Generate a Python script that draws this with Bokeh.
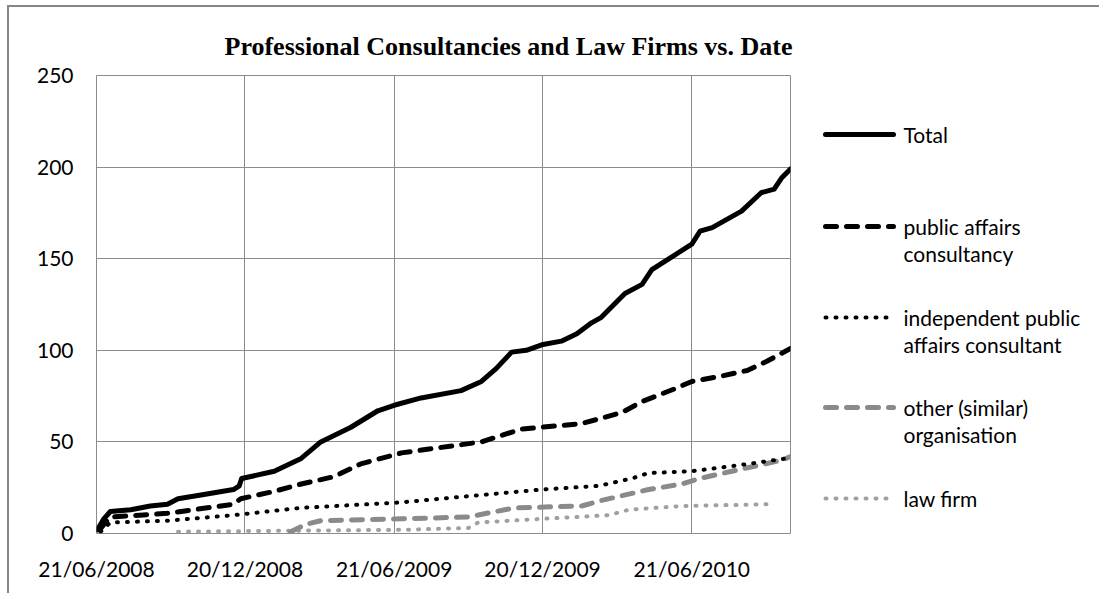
import pandas as pd
from bokeh.plotting import figure
from bokeh.layouts import row
from bokeh.models import Range1d, FixedTicker, DatetimeTickFormatter
from bokeh.core.properties import value
from bokeh.embed import file_html
from bokeh.resources import INLINE

TITLE = "Professional Consultancies and Law Firms vs. Date"
X_START = "2008-06-21"
X_END = "2010-10-20"
X_TICK_DATES = ["2008-06-21", "2008-12-20", "2009-06-21", "2009-12-20", "2010-06-21"]
Y_TICKS = [0, 50, 100, 150, 200, 250]

total_dates = ["2008-06-22", "2008-06-30", "2008-07-08", "2008-08-02", "2008-08-26", "2008-09-16",
               "2008-09-29", "2008-10-27", "2008-12-06", "2008-12-13", "2008-12-16", "2009-01-25",
               "2009-02-27", "2009-03-23", "2009-04-29", "2009-06-01", "2009-06-21", "2009-07-24",
               "2009-09-11", "2009-10-06", "2009-10-24", "2009-11-12", "2009-11-30", "2009-12-19",
               "2010-01-12", "2010-01-31", "2010-02-18", "2010-03-02", "2010-03-31", "2010-04-21",
               "2010-05-03", "2010-05-31", "2010-06-21", "2010-07-01", "2010-07-16", "2010-08-21",
               "2010-09-14", "2010-09-30", "2010-10-09", "2010-10-20"]
total_values = [2, 8, 12, 13, 15, 16, 19, 21, 24, 26, 30, 34, 41, 50, 58, 67, 70, 74, 78, 83,
                90, 99, 100, 103, 105, 109, 115, 118, 131, 136, 144, 152, 158, 165, 167, 176,
                186, 188, 194, 199]

pac_dates = ["2008-06-25", "2008-07-02", "2008-07-08", "2008-09-16", "2008-12-06", "2008-12-15",
             "2009-01-25", "2009-02-27", "2009-04-08", "2009-05-11", "2009-06-05", "2009-06-30",
             "2009-08-18", "2009-10-06", "2009-11-24", "2010-02-06", "2010-03-27", "2010-04-21",
             "2010-05-31", "2010-06-21", "2010-07-28", "2010-08-28", "2010-09-21", "2010-10-20"]
pac_values = [2, 6, 9, 11, 16, 19, 23, 27, 31, 38, 41, 44, 47, 50, 57, 60, 66, 72, 79, 83,
              86, 89, 94, 101]

ipc_dates = ["2008-06-26", "2008-07-08", "2008-09-16", "2008-12-06", "2009-02-27", "2009-06-30",
             "2009-10-06", "2009-12-19", "2010-02-27", "2010-04-08", "2010-04-29", "2010-06-21",
             "2010-08-30", "2010-10-15"]
ipc_values = [1, 6, 7, 10, 14, 17, 21, 24, 26, 30, 33, 34, 38, 41]

other_dates = ["2009-02-14", "2009-03-05", "2009-03-23", "2009-06-30", "2009-09-20", "2009-11-15",
               "2010-02-06", "2010-03-02", "2010-04-29", "2010-06-09", "2010-06-30", "2010-08-09",
               "2010-09-19", "2010-10-09", "2010-10-20"]
other_values = [1, 5, 7, 8, 9, 14, 15, 18, 24, 27, 30, 34, 38, 40, 42]

law_dates = ["2008-09-29", "2009-06-30", "2009-09-20", "2009-10-02", "2009-12-19", "2010-03-11",
             "2010-04-05", "2010-06-09", "2010-09-25"]
law_values = [1, 2, 3, 6, 8, 10, 13, 15, 16]

LEGEND_LABELS = [["Total"], ["public affairs", "consultancy"],
                 ["independent public", "affairs consultant"],
                 ["other (similar)", "organisation"], ["law firm"]]

GRID = "#8c8c8c"
FONT = "Lato"

def d(lst):
    return pd.to_datetime(lst)

x0 = pd.Timestamp(X_START)
x1 = pd.Timestamp(X_END)

# page origin of the canvases (margin + border)
OX, OY = 9, 7
W_MAIN, W_LEG, H = 800, 290, 586
F_TOP, F_BOT, F_LEFT = 75, 533, 96          # frame edges in page pixels
MB_TOP = F_TOP - OY
MB_BOT = OY + H - F_BOT
MB_LEFT = F_LEFT - OX
MB_RIGHT = W_MAIN - MB_LEFT - 694

p = figure(width=W_MAIN, height=H, x_axis_type="datetime",
           x_range=Range1d(x0, x1), y_range=Range1d(0, 250),
           toolbar_location=None, output_backend="svg", title=TITLE,
           min_border_left=MB_LEFT, min_border_right=MB_RIGHT,
           min_border_top=MB_TOP, min_border_bottom=MB_BOT)
p.outline_line_color = GRID
p.outline_line_width = 1
p.background_fill_color = "white"
p.border_fill_color = "white"

p.title.text_font = "Liberation Serif"
p.title.text_font_style = "bold"
p.title.text_font_size = "26px"
p.title.text_color = "black"
p.title.align = "left"
p.title.offset = 224 - F_LEFT
p.title.standoff = 29

p.xaxis.ticker = FixedTicker(ticks=[pd.Timestamp(t).value / 1e6 for t in X_TICK_DATES])
fmt = "%d/%m/%Y"
p.xaxis.formatter = DatetimeTickFormatter(days=fmt, months=fmt, years=fmt, hours=fmt,
                                          minutes=fmt, seconds=fmt, milliseconds=fmt,
                                          microseconds=fmt, minsec=fmt, hourmin=fmt)
p.yaxis.ticker = FixedTicker(ticks=Y_TICKS)
for ax in (p.xaxis, p.yaxis):
    ax.axis_line_color = None
    ax.major_tick_line_color = None
    ax.minor_tick_line_color = None
    ax.major_tick_out = 0
    ax.major_label_text_font = FONT
    ax.major_label_text_font_size = "21px"
    ax.major_label_text_color = "black"
p.yaxis.major_label_standoff = 23
p.xaxis.major_label_standoff = 22
p.xgrid.grid_line_color = GRID
p.ygrid.grid_line_color = GRID
p.xgrid.grid_line_width = 1
p.ygrid.grid_line_width = 1

# series (lighter ones first)
p.line(d(law_dates), law_values, line_color="#a0a0a0", line_width=4,
       line_dash="1 9", line_cap="round", line_join="round")
p.line(d(other_dates), other_values, line_color="#8a8a8a", line_width=5,
       line_dash="11 10", line_cap="round", line_join="round")
p.line(d(ipc_dates), ipc_values, line_color="black", line_width=4,
       line_dash="1 9", line_cap="round", line_join="round")
p.line(d(pac_dates), pac_values, line_color="black", line_width=5,
       line_dash="11 10", line_cap="round", line_join="round")
p.line(d(total_dates), total_values, line_color="black", line_width=5,
       line_cap="round", line_join="round")

# legend panel: ranges expressed in page pixels, frame aligned with the main frame
LX0 = OX + W_MAIN
lg = figure(width=W_LEG, height=H, x_range=Range1d(LX0, LX0 + W_LEG),
            y_range=Range1d(F_BOT, F_TOP),
            x_axis_type=None, y_axis_type=None, toolbar_location=None, output_backend="svg",
            min_border_left=0, min_border_right=0,
            min_border_top=MB_TOP, min_border_bottom=MB_BOT)
lg.outline_line_color = None
lg.background_fill_color = "white"
lg.border_fill_color = "white"

styles = [dict(line_color="black", line_width=5),
          dict(line_color="black", line_width=5, line_dash="11 10"),
          dict(line_color="black", line_width=4, line_dash="1 9"),
          dict(line_color="#8a8a8a", line_width=5, line_dash="11 10"),
          dict(line_color="#a0a0a0", line_width=4, line_dash="1 9")]
tops = [134, 226, 317, 407, 498]
for lab, st, yy in zip(LEGEND_LABELS, styles, tops):
    lg.line([825, 893], [yy, yy], line_cap="round", **st)
    for i, t in enumerate(lab):
        lg.text(x=[903], y=[yy + i * 27], text=[t], text_font=value(FONT),
                text_font_size="21px", text_baseline="middle", text_color="black")

layout = row(p, lg)
layout.styles = {"margin-left": "7px", "margin-top": "5px",
                 "border-top": "2px solid #868686", "border-left": "2px solid #868686"}

open("out.html", "w").write(file_html(layout, INLINE))
